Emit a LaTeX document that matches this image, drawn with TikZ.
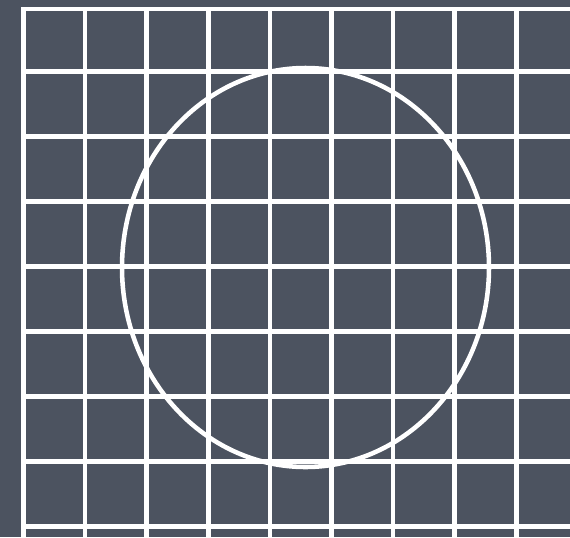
\documentclass[tikz,border=0pt]{standalone}
\definecolor{SlateBg}{RGB}{76,83,96}
\definecolor{ChalkWhite}{RGB}{255,255,255}
\usepackage{tikz}
\usetikzlibrary{calc}

\begin{document}
\begin{tikzpicture}[x=0.75pt, y=-0.75pt,
  gridline/.style={ChalkWhite, line width=3.4pt, line cap=rect},
  circleline/.style={ChalkWhite, line width=3.4pt}
]

% Background
\fill[SlateBg] (0,0) rectangle (570,537);
\useasboundingbox (0,0) rectangle (570,537);

% Grid
\foreach \i in {0,...,8} {
  \draw[gridline] ({23.5+61.6*\i},10) -- ({23.5+61.6*\i},540);
}
\foreach \y in {9,71.5,136.5,201.5,266.5,331.5,396.5,461.5,526.5} {
  \draw[gridline] (23.5,\y) -- (575,\y);
}

% Circle
\draw[circleline] (305.5,267.5) ellipse [x radius=183.5, y radius=199.5];

\end{tikzpicture}
\end{document}
